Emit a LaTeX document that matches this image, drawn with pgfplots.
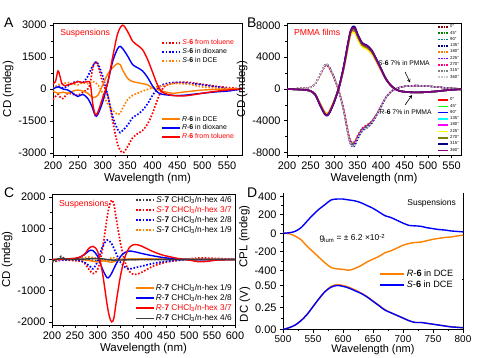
\documentclass[border=0pt]{standalone}
\usepackage{fontspec}
\setmainfont{Liberation Sans}
\usepackage{pgfplots}
\pgfplotsset{compat=1.18}
\usepackage{pgfplotstable}

\definecolor{cRed}{RGB}{255,0,0}
\definecolor{cBlue}{RGB}{0,0,255}
\definecolor{cOrange}{RGB}{255,128,0}
\definecolor{cGray}{RGB}{60,60,60}
% panel B dotted
\definecolor{bA}{RGB}{128,0,0}
\definecolor{bB}{RGB}{0,128,0}
\definecolor{bC}{RGB}{0,128,128}
\definecolor{bD}{RGB}{0,0,128}
\definecolor{bE}{RGB}{255,128,0}
\definecolor{bF}{RGB}{128,0,255}
\definecolor{bG}{RGB}{255,0,128}
\definecolor{bH}{RGB}{128,128,128}
\definecolor{bI}{RGB}{200,200,200}
% panel B solid
\definecolor{sA}{RGB}{255,0,0}
\definecolor{sB}{RGB}{0,255,0}
\definecolor{sC}{RGB}{0,0,255}
\definecolor{sD}{RGB}{0,255,255}
\definecolor{sE}{RGB}{255,0,255}
\definecolor{sF}{RGB}{255,255,0}
\definecolor{sG}{RGB}{128,128,0}
\definecolor{sH}{RGB}{0,0,128}
\definecolor{sI}{RGB}{128,0,128}

\pgfplotstableread{
x r0 r45 r90 r135 r180 r225 r270 r315 r360 s0 s45 s90 s135 s180 s225 s270 s315 s360
200 0 0 0 0 0 0 0 0 0 0 0 0 0 0 0 0 0 0
210 -20 -20 -20 -20 -20 -20 -20 -20 -20 20 20 20 20 20 20 20 20 20
220 -50 -50 -50 -50 -50 -50 -50 -50 -50 50 50 50 50 50 50 50 50 50
230 -80 -80 -80 -80 -80 -80 -80 -80 -80 80 80 80 80 80 80 80 80 80
240 -120 -120 -120 -120 -120 -120 -120 -120 -120 110 110 110 110 110 110 110 110 110
250 -250 -250 -250 -250 -250 -250 -250 -250 -250 220 220 220 220 220 220 220 220 220
260 -700 -700 -700 -700 -700 -700 -700 -700 -700 650 650 650 650 650 650 650 650 650
270 -1900 -1900 -2000 -1850 -1800 -1800 -1900 -2000 -1950 1750 1700 1800 1850 1650 1750 1700 1800 1850
280 -3000 -3050 -3100 -2950 -2900 -2900 -3000 -3150 -3100 2900 2850 2950 3000 2800 2900 2850 2950 3000
285 -3200 -3250 -3300 -3150 -3100 -3100 -3200 -3350 -3300 3000 2950 3050 3100 2900 3000 2950 3050 3150
290 -2900 -2950 -3000 -2850 -2800 -2800 -2900 -3050 -3000 2700 2650 2750 2800 2600 2700 2650 2750 2800
300 -1600 -1600 -1650 -1550 -1550 -1500 -1600 -1700 -1650 1450 1400 1500 1500 1350 1450 1400 1450 1500
310 100 100 100 100 100 100 100 100 100 -200 -200 -200 -200 -200 -200 -200 -200 -200
320 2500 2500 2600 2450 2400 2400 2500 2650 2600 -2500 -2450 -2550 -2600 -2400 -2500 -2400 -2550 -2600
330 5600 5650 5750 5500 5450 5400 5600 5900 5800 -5600 -5500 -5700 -5800 -5450 -5550 -5400 -5650 -5750
335 7000 7050 7150 6850 6800 6750 7000 7300 7200 -6700 -6600 -6850 -6950 -6500 -6650 -6450 -6750 -6900
340 7400 7450 7600 7300 7200 7150 7450 7850 7700 -7000 -6850 -7150 -7300 -6800 -6950 -6700 -7050 -7200
345 7300 7350 7500 7200 7150 7050 7350 7750 7600 -6800 -6650 -6950 -7050 -6600 -6750 -6550 -6850 -7000
350 6550 6600 6750 6450 6400 6300 6600 6950 6800 -6100 -6000 -6200 -6350 -5900 -6050 -5850 -6150 -6300
360 5500 5550 5650 5400 5350 5300 5500 5800 5700 -5100 -5000 -5200 -5300 -4950 -5050 -4900 -5150 -5250
370 5200 5250 5350 5100 5050 5000 5200 5500 5400 -4700 -4600 -4800 -4900 -4550 -4650 -4500 -4750 -4850
380 4650 4700 4750 4550 4500 4450 4650 4900 4800 -4200 -4100 -4300 -4350 -4100 -4150 -4050 -4250 -4300
390 3600 3650 3700 3550 3500 3500 3600 3800 3700 -3300 -3250 -3350 -3400 -3200 -3300 -3200 -3300 -3400
400 2450 2450 2500 2400 2350 2350 2450 2550 2500 -2200 -2150 -2250 -2300 -2150 -2200 -2150 -2200 -2250
410 1300 1300 1300 1300 1300 1300 1300 1300 1300 -1100 -1100 -1100 -1100 -1100 -1100 -1100 -1100 -1100
420 500 500 500 500 500 500 500 500 500 -400 -400 -400 -400 -400 -400 -400 -400 -400
430 0 0 0 0 0 0 0 0 0 0 0 0 0 0 0 0 0 0
440 -250 -250 -250 -250 -250 -250 -250 -250 -250 200 200 200 200 200 200 200 200 200
450 -350 -350 -350 -350 -350 -350 -350 -350 -350 330 330 330 330 330 330 330 330 330
460 -400 -400 -400 -400 -400 -400 -400 -400 -400 400 400 400 400 400 400 400 400 400
470 -420 -420 -420 -420 -420 -420 -420 -420 -420 420 420 420 420 420 420 420 420 420
480 -420 -420 -420 -420 -420 -420 -420 -420 -420 420 420 420 420 420 420 420 420 420
500 -380 -380 -380 -380 -380 -380 -380 -380 -380 350 350 350 350 350 350 350 350 350
520 -280 -280 -280 -280 -280 -280 -280 -280 -280 250 250 250 250 250 250 250 250 250
540 -150 -150 -150 -150 -150 -150 -150 -150 -150 130 130 130 130 130 130 130 130 130
560 -60 -60 -60 -60 -60 -60 -60 -60 -60 50 50 50 50 50 50 50 50 50
570 -30 -30 -30 -30 -30 -30 -30 -30 -30 20 20 20 20 20 20 20 20 20
}\tabB

\pgfplotsset{
  panel/.style={scale only axis, anchor=south west,
    tick align=outside, tick pos=left,
    major tick length=3bp, minor tick length=1.8bp,
    axis line style={-, line width=0.8bp},
    every tick/.style={black, line width=0.7bp},
    ticklabel style={font=\fontsize{11}{12}\selectfont},
    label style={font=\fontsize{11.5}{13}\selectfont},
    /pgf/number format/assume math mode=true,
    /pgf/number format/1000 sep={},
    scaled ticks=false,
    minor x tick num=1, minor y tick num=1,
    xlabel style={yshift=3bp}, ylabel style={yshift=-2bp},
  },
  dotsty/.style={line width=1.7bp, dash pattern=on 1.6bp off 1.7bp, smooth, tension=0.5},
  solsty/.style={line width=1.4bp, smooth, tension=0.5},
  leg/.style={legend cell align=left,
    legend image code/.code={\draw[##1, line width=1.8bp] (0bp,0bp) -- (18bp,0bp);},
    legend style={draw=none, fill=none, inner sep=0pt, row sep=0pt,
      nodes={inner sep=1.2bp}, font=\fontsize{7}{8}\selectfont}},
  legBdot/.style={legend image code/.code={\draw[##1, line width=1.8bp, dash pattern=on 1.6bp off 1bp] (0bp,0bp) -- (10bp,0bp);}},
  legBsol/.style={legend image code/.code={\draw[##1, line width=1.6bp] (0bp,0bp) -- (10bp,0bp);}},
  legD/.style={legend image code/.code={\draw[##1, line width=2bp] (0bp,0bp) -- (24bp,0bp);}},
}

\begin{document}
\begin{tikzpicture}
\useasboundingbox (0,0) rectangle (500bp,358bp);

% ================= Panel A =================
\begin{axis}[panel, at={(53bp,203bp)}, width=189bp, height=132bp,
  xmin=200, xmax=580, ymin=-3100, ymax=3100,
  xtick={200,250,...,550}, ytick={-3000,-1500,0,1500,3000},
  xlabel={Wavelength (nm)}, ylabel={CD (mdeg)},
  leg, legend style={at={(rel axis cs:0.965,0.885)}, anchor=north east}]
\addplot[dotsty, color=cRed] coordinates {(200,-500)(205,-350)(210,-250)(215,-400)(220,-450)(230,-200)(240,-250)(250,-300)(260,-150)(270,0)(275,300)(280,1000)(285,1250)(290,1150)(300,300)(310,-300)(320,-1500)(330,-2600)(340,-3000)(350,-2700)(360,-2300)(370,-2100)(380,-1950)(390,-1650)(400,-1150)(410,-500)(420,0)(430,200)(450,300)(470,320)(500,220)(530,120)(560,50)(580,0)};
\addlegendentry{\textcolor{cRed}{\textit{S}-\textbf{6} from toluene}}
\addplot[dotsty, color=cBlue] coordinates {(200,0)(210,150)(220,50)(230,150)(240,300)(250,350)(260,300)(270,600)(278,1000)(285,1250)(290,1200)(300,600)(310,-300)(320,-1300)(330,-1900)(335,-2050)(340,-1950)(350,-1700)(360,-1350)(370,-1200)(380,-1000)(390,-700)(400,-300)(410,0)(420,200)(440,300)(460,300)(480,250)(500,200)(530,100)(545,50)(550,-100)(560,-50)(580,0)};
\addlegendentry{\textit{S}-\textbf{6} in dioxane}
\addplot[dotsty, color=cOrange] coordinates {(200,0)(210,200)(220,250)(230,300)(240,250)(250,200)(260,300)(270,250)(280,350)(290,200)(300,-200)(310,-700)(320,-1000)(330,-1200)(335,-1150)(340,-900)(350,-500)(360,-300)(370,-200)(380,-100)(400,50)(420,150)(440,250)(460,250)(480,200)(500,100)(550,0)(580,0)};
\addlegendentry{\textit{S}-\textbf{6} in DCE}
\node[anchor=north west, text=cRed, font=\fontsize{8.7}{10}\selectfont] at (rel axis cs:0.02,0.98) {Suspensions};
\end{axis}
\begin{axis}[panel, hide axis, at={(53bp,203bp)}, width=189bp, height=132bp,
  xmin=200, xmax=580, ymin=-3100, ymax=3100,
  leg, legend style={at={(rel axis cs:0.965,0.1)}, anchor=south east}]
\addplot[solsty, color=cOrange] coordinates {(200,-100)(210,-200)(220,-150)(230,-200)(240,-100)(250,-50)(260,-100)(270,-200)(280,-400)(290,-300)(300,200)(310,700)(320,1000)(330,1200)(335,1150)(340,900)(350,500)(360,350)(370,300)(380,250)(390,200)(400,50)(420,-100)(440,-200)(460,-150)(480,-100)(500,-50)(550,0)(580,0)};
\addlegendentry{\textit{R}-\textbf{6} in DCE}
\addplot[solsty, color=cBlue] coordinates {(200,0)(210,100)(220,0)(230,-50)(240,-200)(250,-350)(260,-250)(270,-450)(278,-800)(285,-1250)(290,-1200)(300,-600)(310,300)(320,1300)(330,1900)(335,2000)(340,1900)(350,1550)(360,1150)(370,1000)(380,850)(390,550)(400,150)(410,-150)(420,-250)(440,-300)(460,-300)(480,-250)(500,-200)(530,-130)(550,-100)(580,0)};
\addlegendentry{\textit{R}-\textbf{6} in dioxane}
\addplot[solsty, color=cRed] coordinates {(200,250)(205,350)(210,850)(214,600)(218,250)(225,150)(230,200)(240,250)(250,350)(260,300)(270,350)(275,250)(280,-700)(285,-1200)(290,-1100)(300,-400)(310,300)(320,1500)(330,2600)(340,3000)(350,2700)(360,2250)(370,2050)(380,1850)(390,1400)(400,800)(410,200)(420,-150)(440,-300)(460,-330)(480,-280)(500,-200)(530,-100)(560,-30)(580,0)};
\addlegendentry{\textcolor{cRed}{\textit{R}-\textbf{6} from toluene}}
\end{axis}

% ================= Panel B =================
\begin{axis}[panel, at={(287bp,203bp)}, width=174bp, height=132bp,
  xmin=200, xmax=570, ymin=-8300, ymax=8300,
  xtick={200,250,...,550}, ytick={-8000,-4000,0,4000,8000},
  xlabel={Wavelength (nm)}, ylabel={CD (mdeg)},
  leg, legBdot,
  legend style={at={(rel axis cs:0.995,0.995)}, anchor=north east, font=\fontsize{4.3}{5}\selectfont, nodes={inner sep=0.9bp}}]
\addplot[dotsty, color=bA, line width=1.3bp] table[x=x,y=s0]{\tabB}; \addlegendentry{0°}
\addplot[dotsty, color=bB, line width=1.3bp] table[x=x,y=s45]{\tabB}; \addlegendentry{45°}
\addplot[dotsty, color=bC, line width=1.3bp] table[x=x,y=s90]{\tabB}; \addlegendentry{90°}
\addplot[dotsty, color=bD, line width=1.3bp] table[x=x,y=s135]{\tabB}; \addlegendentry{135°}
\addplot[dotsty, color=bE, line width=1.3bp] table[x=x,y=s180]{\tabB}; \addlegendentry{180°}
\addplot[dotsty, color=bF, line width=1.3bp] table[x=x,y=s225]{\tabB}; \addlegendentry{225°}
\addplot[dotsty, color=bG, line width=1.3bp] table[x=x,y=s270]{\tabB}; \addlegendentry{270°}
\addplot[dotsty, color=bH, line width=1.3bp] table[x=x,y=s315]{\tabB}; \addlegendentry{315°}
\addplot[dotsty, color=bI, line width=1.3bp] table[x=x,y=s360]{\tabB}; \addlegendentry{360°}
\node[anchor=north west, text=cRed, font=\fontsize{8.7}{10}\selectfont] at (rel axis cs:0.02,0.98) {PMMA films};
\node[anchor=east, font=\fontsize{6.8}{8}\selectfont, inner sep=0pt] at (axis cs:504,3270) {\textit{S}-\textbf{6} 7\% in PMMA};
\draw[-stealth, line width=0.6bp] (axis cs:451,2140) -- (axis cs:462,800);
\node[anchor=east, font=\fontsize{6.8}{8}\selectfont, inner sep=0pt] at (axis cs:508,-2890) {\textit{R}-\textbf{6} 7\% in PMMA};
\draw[-stealth, line width=0.6bp] (axis cs:451,-2010) -- (axis cs:466,-750);
\end{axis}
\begin{axis}[panel, hide axis, at={(287bp,203bp)}, width=174bp, height=132bp,
  xmin=200, xmax=570, ymin=-8300, ymax=8300,
  leg, legBsol,
  legend style={at={(rel axis cs:0.995,0.01)}, anchor=south east, font=\fontsize{4.3}{5}\selectfont, nodes={inner sep=0.9bp}}]
\addplot[solsty, color=sA, line width=1.6bp] table[x=x,y=r0]{\tabB}; \addlegendentry{0°}
\addplot[solsty, color=sB, line width=1.6bp] table[x=x,y=r45]{\tabB}; \addlegendentry{45°}
\addplot[solsty, color=sC, line width=1.6bp] table[x=x,y=r90]{\tabB}; \addlegendentry{90°}
\addplot[solsty, color=sD, line width=1.6bp] table[x=x,y=r135]{\tabB}; \addlegendentry{135°}
\addplot[solsty, color=sE, line width=1.6bp] table[x=x,y=r180]{\tabB}; \addlegendentry{180°}
\addplot[solsty, color=sF, line width=1.6bp] table[x=x,y=r225]{\tabB}; \addlegendentry{225°}
\addplot[solsty, color=sG, line width=1.6bp] table[x=x,y=r270]{\tabB}; \addlegendentry{270°}
\addplot[solsty, color=sH, line width=1.6bp] table[x=x,y=r315]{\tabB}; \addlegendentry{315°}
\addplot[solsty, color=sI, line width=1.6bp] table[x=x,y=r360]{\tabB}; \addlegendentry{360°}
\end{axis}

% ================= Panel C =================
\begin{axis}[panel, at={(52bp,33bp)}, width=183bp, height=131bp,
  xmin=200, xmax=600, ymin=-2100, ymax=2100,
  xtick={200,250,...,600}, ytick={-2000,-1000,0,1000,2000},
  xlabel={Wavelength (nm)}, ylabel={CD (mdeg)},
  leg, legend style={at={(rel axis cs:0.99,0.995)}, anchor=north east, font=\fontsize{8.3}{9}\selectfont, nodes={inner sep=1.3bp}}]
\addplot[dotsty, color=cGray] coordinates {(200,-80)(210,-50)(215,50)(220,100)(225,50)(230,0)(250,-20)(270,0)(290,-30)(300,-50)(310,-30)(320,0)(330,-30)(340,-20)(350,0)(400,0)(600,0)};
\addlegendentry{\textit{S}-\textbf{7} CHCl\textsubscript{3}/n-hex 4/6}
\addplot[dotsty, color=cRed] coordinates {(200,-50)(230,-20)(260,-50)(270,-100)(280,-300)(290,-450)(300,-300)(310,300)(320,1300)(325,1700)(330,1900)(335,1800)(340,1350)(350,500)(360,-100)(370,-400)(380,-480)(390,-450)(400,-380)(420,-220)(440,-120)(460,-60)(480,-20)(500,20)(520,50)(550,40)(580,20)(600,0)};
\addlegendentry{\textcolor{cRed}{\textit{S}-\textbf{7} CHCl\textsubscript{3}/n-hex 3/7}}
\addplot[dotsty, color=cBlue] coordinates {(200,-50)(220,-20)(250,0)(270,-80)(285,-250)(290,-300)(300,-50)(310,400)(320,620)(325,600)(330,520)(340,200)(350,-100)(360,-250)(370,-300)(380,-270)(400,-200)(420,-130)(450,-60)(500,0)(600,0)};
\addlegendentry{\textit{S}-\textbf{7} CHCl\textsubscript{3}/n-hex 2/8}
\addplot[dotsty, color=cOrange] coordinates {(200,-50)(220,0)(250,30)(270,60)(280,80)(290,60)(300,30)(310,-20)(320,-40)(330,60)(340,40)(350,0)(400,10)(600,0)};
\addlegendentry{\textit{S}-\textbf{7} CHCl\textsubscript{3}/n-hex 1/9}
\node[anchor=north west, text=cRed, font=\fontsize{8.7}{10}\selectfont] at (rel axis cs:0.02,0.98) {Suspensions};
\end{axis}
\begin{axis}[panel, hide axis, at={(52bp,33bp)}, width=183bp, height=131bp,
  xmin=200, xmax=600, ymin=-2100, ymax=2100,
  leg, legend style={at={(rel axis cs:0.99,0.01)}, anchor=south east, font=\fontsize{8.3}{9}\selectfont, nodes={inner sep=1.3bp}}]
\addplot[solsty, color=cOrange] coordinates {(200,0)(250,10)(280,-30)(300,-80)(310,-40)(320,-60)(330,-90)(340,-50)(350,0)(400,20)(450,10)(600,0)};
\addlegendentry{\textit{R}-\textbf{7} CHCl\textsubscript{3}/n-hex 1/9}
\addplot[solsty, color=cBlue] coordinates {(200,0)(250,20)(270,150)(280,270)(285,300)(290,280)(300,100)(310,-300)(320,-580)(325,-560)(330,-450)(340,-150)(350,100)(360,230)(370,270)(380,250)(400,180)(420,120)(450,50)(500,0)(600,0)};
\addlegendentry{\textit{R}-\textbf{7} CHCl\textsubscript{3}/n-hex 2/8}
\addplot[solsty, color=cRed] coordinates {(200,0)(250,40)(270,150)(280,350)(290,420)(300,250)(310,-400)(320,-1400)(325,-1800)(330,-2000)(335,-1900)(340,-1400)(350,-500)(360,100)(370,400)(380,480)(390,460)(400,400)(420,260)(440,150)(460,80)(480,20)(500,-20)(520,-70)(540,-60)(560,-20)(600,0)};
\addlegendentry{\textcolor{cRed}{\textit{R}-\textbf{7} CHCl\textsubscript{3}/n-hex 3/7}}
\addplot[solsty, color=cGray] coordinates {(200,-50)(210,0)(220,40)(240,0)(300,30)(320,0)(340,-20)(400,0)(600,0)};
\addlegendentry{\textit{R}-\textbf{7} CHCl\textsubscript{3}/n-hex 4/6}
\end{axis}

% ================= Panel D =================
\begin{axis}[panel, at={(283bp,78.5bp)}, width=180bp, height=86bp,
  xmin=500, xmax=800, ymin=-500, ymax=430,
  axis x line*=top, axis y line*=box, xtick=\empty, ytick pos=left,
  ytick={-400,-200,0,200,400}, ylabel={CPL (mdeg)}]
\addplot[solsty, color=cOrange] coordinates {(500,0)(510,-5)(520,-30)(530,-70)(540,-140)(550,-200)(560,-260)(570,-320)(580,-370)(590,-385)(600,-390)(610,-400)(620,-380)(630,-350)(640,-310)(650,-280)(660,-250)(670,-210)(680,-190)(690,-160)(700,-130)(710,-110)(720,-100)(730,-95)(740,-80)(750,-65)(760,-55)(770,-45)(780,-40)(790,-30)(800,-20)};
\addplot[solsty, color=cBlue] coordinates {(500,0)(510,5)(520,20)(530,60)(540,130)(550,200)(560,260)(570,310)(580,360)(590,370)(600,370)(610,360)(620,350)(630,330)(640,300)(650,270)(660,230)(670,190)(680,170)(690,140)(700,110)(710,85)(720,80)(730,75)(740,60)(750,50)(760,40)(770,35)(780,25)(790,20)(800,15)};
\node[anchor=north east, font=\fontsize{8.5}{10}\selectfont] at (rel axis cs:0.98,0.97) {Suspensions};
\node[anchor=west, font=\fontsize{8.5}{10}\selectfont] at (axis cs:555,-55) {g\textsubscript{lum} = ± 6.2 ×10\textsuperscript{-2}};
\end{axis}
\begin{axis}[panel, at={(283bp,28.5bp)}, width=180bp, height=50bp,
  xmin=500, xmax=800, ymin=0, ymax=0.568,
  axis x line*=bottom, axis y line*=box, ytick pos=left,
  xtick={500,550,...,800}, ytick={0,0.25,0.5},
  xticklabel style={font=\fontsize{10}{11}\selectfont, inner sep=2.5bp},
  yticklabel style={/pgf/number format/.cd, fixed, fixed zerofill, precision=2},
  xlabel={Wavelength (nm)}, ylabel={DC (V)},
  xlabel style={at={(rel axis cs:0.5,0)}, anchor=base, yshift=-25.5bp, font=\fontsize{11}{12}\selectfont},
  leg, legD,
  legend style={at={(rel axis cs:0.955,1.0)}, anchor=east, font=\fontsize{9.2}{10}\selectfont, nodes={inner sep=1.5bp}}]
\draw[white, line width=1.6bp] (rel axis cs:0.004,1) -- (rel axis cs:0.996,1);
\addplot[solsty, color=cOrange] coordinates {(500,0)(510,0.02)(520,0.05)(530,0.1)(540,0.17)(550,0.26)(560,0.35)(570,0.43)(580,0.49)(590,0.51)(600,0.5)(610,0.48)(620,0.45)(630,0.415)(640,0.375)(650,0.325)(660,0.275)(670,0.225)(680,0.19)(690,0.16)(700,0.13)(710,0.1)(720,0.08)(730,0.08)(740,0.07)(750,0.06)(760,0.05)(770,0.04)(780,0.03)(790,0.025)(800,0.02)};
\addlegendentry{\textit{R}-\textbf{6} in DCE}
\addplot[solsty, color=cBlue] coordinates {(500,0)(510,0.02)(520,0.05)(530,0.1)(540,0.17)(550,0.26)(560,0.35)(570,0.43)(580,0.48)(590,0.5)(600,0.49)(610,0.47)(620,0.44)(630,0.41)(640,0.37)(650,0.32)(660,0.27)(670,0.22)(680,0.19)(690,0.16)(700,0.13)(710,0.1)(720,0.08)(730,0.08)(740,0.07)(750,0.06)(760,0.05)(770,0.04)(780,0.03)(790,0.025)(800,0.02)};
\addlegendentry{\textit{S}-\textbf{6} in DCE}
\end{axis}

% panel letters
\node[anchor=north west, font=\fontsize{14}{16}\selectfont, inner sep=0pt] at (4bp,340bp) {A};
\node[anchor=north west, font=\fontsize{14}{16}\selectfont, inner sep=0pt] at (247bp,340bp) {B};
\node[anchor=north west, font=\fontsize{14}{16}\selectfont, inner sep=0pt] at (4bp,170bp) {C};
\node[anchor=north west, font=\fontsize{14}{16}\selectfont, inner sep=0pt] at (247bp,170bp) {D};
\end{tikzpicture}
\end{document}
